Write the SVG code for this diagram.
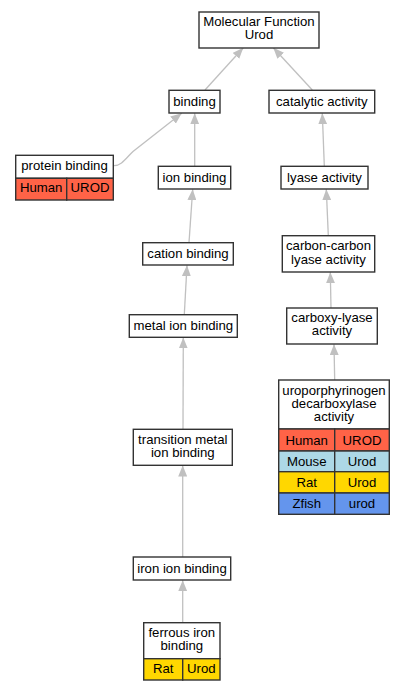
<svg xmlns="http://www.w3.org/2000/svg" width="404" height="691" viewBox="0 0 404 691">
<defs>
<marker id="ah" viewBox="0 0 11 9" refX="11" refY="4.5" markerWidth="11" markerHeight="9" markerUnits="userSpaceOnUse" orient="auto">
<path d="M0,0 L11,4.5 L0,9 z" fill="#c0c0c0"/>
</marker>
<style>
.n{fill:#fff;stroke:#333;stroke-width:1.4}
.hu{fill:#ff6347;stroke:#333;stroke-width:1.4}
.mo{fill:#add8e6;stroke:#333;stroke-width:1.4}
.ra{fill:#ffd700;stroke:#333;stroke-width:1.4}
.zf{fill:#6495ed;stroke:#333;stroke-width:1.4}
text{font-family:"Liberation Sans",Arial,sans-serif;font-size:13.2px;fill:#000;text-anchor:middle}
.e{fill:none;stroke:#c0c0c0;stroke-width:1.3;marker-end:url(#ah)}
</style>
</defs>
<rect width="404" height="691" fill="#fff"/>
<g id="edges">
<path class="e" d="M205,90 L243.3,47.7"/>
<path class="e" d="M312.3,90 L273.3,47.7"/>
<path class="e" d="M114,165.6 C122,165.6 126,158 133,151.5 L181.7,113.3"/>
<path class="e" d="M194.7,166 L194.7,113.3"/>
<path class="e" d="M324.3,166 L322.3,113.3"/>
<path class="e" d="M189,242.5 L192.7,189.2"/>
<path class="e" d="M328.3,235.5 L326.3,189.2"/>
<path class="e" d="M184.3,314.5 L187,265.2"/>
<path class="e" d="M331,308 L330.3,272.2"/>
<path class="e" d="M334.7,380 L334,344.2"/>
<path class="e" d="M183,429.3 L183.3,337.5"/>
<path class="e" d="M182.7,557 L182.7,465.5"/>
<path class="e" d="M182.7,622.7 L182.7,580.2"/>
</g>
<g id="mf">
<rect class="n" x="199" y="12" width="120" height="36"/>
<text x="259" y="26">Molecular Function</text>
<text x="259" y="38.5">Urod</text>
</g>
<g id="binding">
<rect class="n" x="169" y="90.3" width="51" height="22.7"/>
<text x="194.5" y="106">binding</text>
</g>
<g id="catalytic">
<rect class="n" x="269" y="90.3" width="105.7" height="22.7"/>
<text x="321.8" y="106">catalytic activity</text>
</g>
<g id="protein">
<rect class="n" x="15.7" y="155.3" width="97.6" height="23"/>
<text x="64.5" y="170">protein binding</text>
<rect class="hu" x="15.7" y="178.3" width="51" height="21.7"/>
<rect class="hu" x="66.7" y="178.3" width="46.6" height="21.7"/>
<text x="41.2" y="192.3">Human</text>
<text x="90" y="192.3">UROD</text>
</g>
<g id="ion">
<rect class="n" x="158.3" y="166.3" width="72.4" height="22.7"/>
<text x="194.5" y="182">ion binding</text>
</g>
<g id="lyase">
<rect class="n" x="281" y="166.3" width="87" height="22.7"/>
<text x="324.5" y="182">lyase activity</text>
</g>
<g id="cation">
<rect class="n" x="142.7" y="242.7" width="90.6" height="22.3"/>
<text x="188" y="258">cation binding</text>
</g>
<g id="carboncarbon">
<rect class="n" x="282.3" y="235.7" width="92.4" height="36.3"/>
<text x="328.5" y="250">carbon-carbon</text>
<text x="328.5" y="263.5">lyase activity</text>
</g>
<g id="metal">
<rect class="n" x="129.3" y="314.7" width="108" height="22.6"/>
<text x="183.3" y="330">metal ion binding</text>
</g>
<g id="carboxy">
<rect class="n" x="286.7" y="308" width="90.6" height="36"/>
<text x="332" y="322">carboxy-lyase</text>
<text x="332" y="335">activity</text>
</g>
<g id="uroporphyrinogen">
<rect class="n" x="278.7" y="380" width="110.6" height="49"/>
<text x="334" y="394.5">uroporphyrinogen</text>
<text x="334" y="407.5">decarboxylase</text>
<text x="334" y="421">activity</text>
<rect class="hu" x="278.7" y="429" width="56" height="22"/>
<rect class="hu" x="334.7" y="429" width="54.6" height="22"/>
<rect class="mo" x="278.7" y="451" width="56" height="20.7"/>
<rect class="mo" x="334.7" y="451" width="54.6" height="20.7"/>
<rect class="ra" x="278.7" y="471.7" width="56" height="21.3"/>
<rect class="ra" x="334.7" y="471.7" width="54.6" height="21.3"/>
<rect class="zf" x="278.7" y="493" width="56" height="21.3"/>
<rect class="zf" x="334.7" y="493" width="54.6" height="21.3"/>
<text x="306.7" y="444.5">Human</text>
<text x="362" y="444.5">UROD</text>
<text x="306.7" y="466">Mouse</text>
<text x="362" y="466">Urod</text>
<text x="306.7" y="487">Rat</text>
<text x="362" y="487">Urod</text>
<text x="306.7" y="508">Zfish</text>
<text x="362" y="508">urod</text>
</g>
<g id="transition">
<rect class="n" x="133.3" y="429.3" width="99" height="36"/>
<text x="182.8" y="443.5">transition metal</text>
<text x="182.8" y="457">ion binding</text>
</g>
<g id="iron">
<rect class="n" x="133.3" y="557" width="97.4" height="23"/>
<text x="182" y="572.5">iron ion binding</text>
</g>
<g id="ferrous">
<rect class="n" x="143.7" y="622.7" width="76.3" height="36"/>
<text x="181.8" y="637">ferrous iron</text>
<text x="181.8" y="650">binding</text>
<rect class="ra" x="143.7" y="658.7" width="39" height="21.3"/>
<rect class="ra" x="182.7" y="658.7" width="37.3" height="21.3"/>
<text x="163.2" y="672.5">Rat</text>
<text x="201.3" y="672.5">Urod</text>
</g>
</svg>
